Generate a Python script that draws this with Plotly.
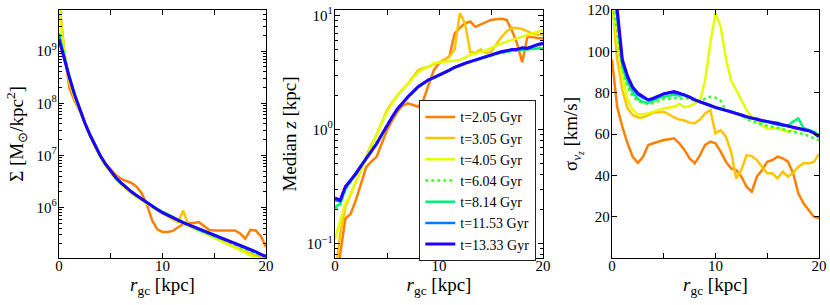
import plotly.graph_objects as go

# ---------------- data ----------------
R_KPC = [0, 0.5, 1, 1.5, 2, 2.5, 3, 3.5, 4, 4.5, 5, 5.5, 6, 6.5, 7, 7.5, 8, 8.5, 9, 9.5,
         10, 10.5, 11, 11.5, 12, 12.5, 13, 13.5, 14, 14.5, 15, 15.5, 16, 16.5, 17, 17.5,
         18, 18.5, 19, 19.5, 20]

LABELS = ["t=2.05 Gyr", "t=3.05 Gyr", "t=4.05 Gyr", "t=6.04 Gyr",
          "t=8.14 Gyr", "t=11.53 Gyr", "t=13.33 Gyr"]
COLORS = ["#ff8000", "#ffc400", "#e1ff00", "#3cff28", "#00f078", "#0078ff", "#2200ff"]
DASHES = ["solid", "solid", "solid", "dot", "solid", "solid", "solid"]
WIDTHS = [2.5, 2.5, 2.5, 2.5, 2.5, 2.5, 3.0]

# Panel 1: log10 Sigma [Msun/kpc^2]
LOGSIG_205 = [10.0, 9.0, 8.3, 8.05, 7.85, 7.6, 7.38, 7.17, 6.98, 6.84, 6.72, 6.62, 6.55, 6.51, 6.47,
              6.40, 6.27, 6.05, 5.75, 5.58, 5.53, 5.53, 5.55, 5.62, 5.68, 5.70, 5.70, 5.72, 5.64,
              5.57, 5.56, 5.56, 5.57, 5.56, 5.56, 5.50, 5.40, 5.57, 5.56, 5.45, 5.24]
LOGSIG_305 = [9.9, 9.0, 8.4, 8.1, 7.86, 7.6, 7.38, 7.17, 6.97, 6.81, 6.67, 6.55, 6.45, 6.36, 6.28,
              6.21, 6.14, 6.07, 6.01, 5.96, 5.89, 5.83, 5.77, 5.72, 5.94, 5.66, 5.60, 5.57, 5.52,
              5.47, 5.42, 5.37, 5.32, 5.28, 5.24, 5.20, 5.16, 5.12, 5.08, 5.04, 5.00]
LOGSIG_405 = [9.9, 8.95, 8.45, 8.12, 7.86, 7.6, 7.37, 7.16, 6.96, 6.80, 6.66, 6.54, 6.44, 6.35, 6.27,
              6.20, 6.13, 6.06, 6.00, 5.95, 5.89, 5.84, 5.79, 5.74, 5.69, 5.65, 5.60, 5.56, 5.52,
              5.47, 5.42, 5.37, 5.32, 5.27, 5.22, 5.17, 5.12, 5.08, 5.04, 5.01, 4.98]
LOGSIG_604 = [9.35, 8.9, 8.5, 8.17, 7.88, 7.62, 7.39, 7.19, 6.99, 6.83, 6.69, 6.57, 6.47, 6.38, 6.30,
              6.23, 6.16, 6.09, 6.02, 5.97, 5.91, 5.86, 5.81, 5.75, 5.70, 5.65, 5.61, 5.57, 5.53,
              5.49, 5.45, 5.41, 5.37, 5.33, 5.29, 5.25, 5.20, 5.16, 5.12, 5.08, 5.04]
LOGSIG_814 = [9.32, 8.88, 8.5, 8.17, 7.88, 7.62, 7.39, 7.19, 6.99, 6.83, 6.69, 6.57, 6.47, 6.38, 6.30,
              6.23, 6.16, 6.09, 6.03, 5.97, 5.92, 5.86, 5.81, 5.76, 5.71, 5.66, 5.62, 5.57, 5.53,
              5.49, 5.45, 5.42, 5.38, 5.35, 5.32, 5.28, 5.24, 5.20, 5.15, 5.10, 5.06]
LOGSIG_1153 = [9.28, 8.86, 8.5, 8.17, 7.88, 7.62, 7.39, 7.19, 6.99, 6.83, 6.69, 6.57, 6.47, 6.38, 6.30,
               6.23, 6.16, 6.09, 6.02, 5.96, 5.90, 5.85, 5.80, 5.75, 5.71, 5.67, 5.63, 5.59, 5.55,
               5.51, 5.47, 5.43, 5.39, 5.36, 5.32, 5.28, 5.24, 5.19, 5.15, 5.10, 5.06]
LOGSIG_1333 = [9.22, 8.85, 8.50, 8.17, 7.88, 7.62, 7.39, 7.19, 6.99, 6.83, 6.69, 6.57, 6.47, 6.38, 6.30,
               6.23, 6.16, 6.09, 6.02, 5.96, 5.90, 5.85, 5.80, 5.75, 5.71, 5.67, 5.63, 5.59, 5.55,
               5.51, 5.47, 5.43, 5.39, 5.36, 5.32, 5.28, 5.24, 5.19, 5.15, 5.10, 5.06]

# Panel 2: log10 median z [kpc]
LOGZ_205 = [-1.5, -1.09, -0.78, -0.74, -0.62, -0.48, -0.33, -0.28, -0.24, -0.12, -0.006, 0.08, 0.155,
            0.21, 0.23, 0.215, 0.20, 0.26, 0.40, 0.52, 0.58, 0.61, 0.64, 0.84, 0.89, 0.93, 0.946, 0.90,
            0.92, 0.946, 0.96, 0.965, 0.97, 0.96, 0.87, 0.755, 0.59, 0.81, 0.81, 0.80, 0.80]
LOGZ_305 = [-1.3, -0.91, -0.68, -0.57, -0.46, -0.35, -0.24, -0.13, -0.05, 0.06, 0.17, 0.24, 0.30,
            0.35, 0.40, 0.46, 0.52, 0.54, 0.55, 0.57, 0.59, 0.61, 0.64, 0.70, 1.02, 0.93, 0.68, 0.67,
            0.70, 0.67, 0.68, 0.75, 0.81, 0.86, 0.89, 0.89, 0.88, 0.86, 0.84, 0.83, 0.83]
LOGZ_405 = [-0.96, -0.80, -0.65, -0.565, -0.46, -0.36, -0.255, -0.14, -0.035, 0.06, 0.155, 0.235, 0.30,
            0.35, 0.40, 0.45, 0.50, 0.53, 0.55, 0.58, 0.585, 0.59, 0.595, 0.60, 0.61, 0.63, 0.655, 0.665,
            0.68, 0.695, 0.71, 0.735, 0.755, 0.77, 0.785, 0.80, 0.81, 0.825, 0.84, 0.855, 0.87]
LOGZ_604 = [-0.70, -0.66, -0.53, -0.46, -0.40, -0.33, -0.26, -0.19, -0.12, -0.04, 0.04, 0.11, 0.175,
            0.23, 0.28, 0.325, 0.37, 0.40, 0.43, 0.45, 0.47, 0.495, 0.515, 0.54, 0.56, 0.575, 0.59, 0.605,
            0.62, 0.635, 0.65, 0.66, 0.67, 0.68, 0.69, 0.69, 0.70, 0.705, 0.71, 0.715, 0.72]
LOGZ_814 = [-0.68, -0.65, -0.52, -0.45, -0.39, -0.32, -0.255, -0.19, -0.125, -0.045, 0.035, 0.11, 0.18,
            0.235, 0.285, 0.33, 0.375, 0.405, 0.435, 0.455, 0.475, 0.50, 0.52, 0.545, 0.565, 0.58, 0.595,
            0.61, 0.625, 0.64, 0.655, 0.665, 0.675, 0.685, 0.69, 0.695, 0.70, 0.70, 0.705, 0.71, 0.71]
LOGZ_1153 = [-0.62, -0.63, -0.51, -0.445, -0.39, -0.32, -0.255, -0.19, -0.125, -0.045, 0.035, 0.11, 0.18,
             0.235, 0.285, 0.33, 0.375, 0.405, 0.435, 0.455, 0.475, 0.50, 0.52, 0.545, 0.565, 0.58, 0.595,
             0.61, 0.625, 0.64, 0.655, 0.67, 0.685, 0.69, 0.70, 0.705, 0.715, 0.715, 0.73, 0.74, 0.75]
LOGZ_1333 = [-0.60, -0.62, -0.50, -0.445, -0.39, -0.32, -0.255, -0.19, -0.125, -0.045, 0.035, 0.11, 0.18,
             0.235, 0.285, 0.33, 0.375, 0.405, 0.435, 0.455, 0.475, 0.50, 0.52, 0.545, 0.565, 0.58, 0.595,
             0.61, 0.625, 0.64, 0.655, 0.665, 0.68, 0.69, 0.70, 0.70, 0.715, 0.71, 0.73, 0.745, 0.755]

# Panel 3: sigma_vz [km/s]
SIG_205 = [96, 73, 63.5, 55.5, 49, 46.1, 49, 54.7, 55.5, 56.3, 57.1, 57.5, 57.9, 55.5, 52.3, 48.2,
           45.8, 49.8, 54.7, 56.3, 55.5, 51.5, 46.6, 43.4, 42.6, 39.4, 34.5, 32.1, 39.4, 42.6, 46.6,
           47.4, 49.0, 48.2, 46.6, 41.0, 31.3, 26.5, 23.2, 20.0, 19.2]
SIG_305 = [125, 96, 81.3, 72.4, 69.2, 68, 68, 69.2, 70.3, 70.5, 70.8, 69.5, 68, 67, 66.5, 65.5,
           65.2, 67, 70, 71.6, 60.3, 61.9, 58.7, 51.5, 38.5, 42.6, 49.8, 49.3, 47.4, 44, 41, 41,
           38.5, 41.8, 39.4, 41, 44.2, 45.8, 45.8, 46.5, 50.3]
SIG_405 = [122, 104, 88, 76.5, 71.6, 69.5, 69.5, 70, 70.8, 71.5, 72.4, 72.8, 73.2, 74.5, 73, 73.5,
           74.8, 76, 86, 104, 118.5, 112, 96.6, 86, 81.3, 76.5, 71.6, 68.5, 66, 64, 62.7, 62.5,
           62.7, 62, 61.1, 62, 62.7, 61.5, 61.6, 60.5, 58.7]
SIG_604 = [125, 110, 92, 83, 78, 76, 75, 74.5, 75, 76, 77, 77, 77.5, 77, 77.5, 77, 76, 76, 77, 78,
           77.5, 76, 71.5, 71, 70, 69, 67.5, 66, 65.5, 64.5, 64, 63.5, 63, 62.5, 61.5, 61, 60.5,
           60, 59, 58, 57]
SIG_814 = [140, 115, 93, 85, 80, 77, 75.5, 75, 76, 77.5, 78, 78.5, 79, 78.5, 79, 78, 76.5, 75.5,
           74.5, 73.5, 72.5, 72, 71.5, 71, 70, 69, 68, 67.5, 67, 66, 66, 65, 64.5, 64, 64, 66, 67.5,
           63, 62, 61, 59.5]
SIG_1153 = [140, 118, 95, 87, 82, 79, 77.5, 76.5, 77, 78.5, 79.5, 80, 80, 79.5, 79, 77.8, 76.5,
            75.5, 74.8, 73.8, 72.9, 72.2, 71.6, 70.8, 70, 69.2, 68.4, 67.6, 67.5, 66.5, 66, 65.6,
            65.5, 64.5, 64, 63.3, 62.7, 62.1, 61.6, 60.5, 59]
SIG_1333 = [145, 120, 96, 88, 82.6, 79.7, 78, 76.5, 77.3, 78.5, 79.4, 80, 80.5, 79.8, 78.9, 77.8,
            76.5, 75.5, 74.8, 73.8, 72.9, 72.2, 71.6, 70.8, 70, 69.2, 68.4, 67.6, 67.1, 66.5, 66,
            65.6, 65.2, 64.5, 63.9, 63.3, 62.7, 62.1, 61.6, 60.5, 58.7]

P1 = [LOGSIG_205, LOGSIG_305, LOGSIG_405, LOGSIG_604, LOGSIG_814, LOGSIG_1153, LOGSIG_1333]
P2 = [LOGZ_205, LOGZ_305, LOGZ_405, LOGZ_604, LOGZ_814, LOGZ_1153, LOGZ_1333]
P3 = [SIG_205, SIG_305, SIG_405, SIG_604, SIG_814, SIG_1153, SIG_1333]

X_TICKS = [0, 10, 20]
X_TICKTEXT = ["0", "10", "20"]
Y1_TICKS = [1e6, 1e7, 1e8, 1e9]
Y1_TICKTEXT = ["10<sup>6</sup>", "10<sup>7</sup>", "10<sup>8</sup>", "10<sup>9</sup>"]
Y2_TICKS = [0.1, 1, 10]
Y2_TICKTEXT = ["10<sup>\u22121</sup>", "10<sup>0</sup>", "10<sup>1</sup>"]
Y3_TICKS = [20, 40, 60, 80, 100, 120]

# ---------------- figure ----------------
W, H = 830, 305
FONT = "Liberation Serif"
fig = go.Figure()

for k in range(7):
    common = dict(mode="lines", legendgroup=LABELS[k], name=LABELS[k], hoverinfo="skip",
                  line=dict(color=COLORS[k], width=WIDTHS[k], dash=DASHES[k]))
    fig.add_trace(go.Scatter(x=R_KPC, y=[10 ** v for v in P1[k]], xaxis="x", yaxis="y",
                             showlegend=False, **common))
    fig.add_trace(go.Scatter(x=R_KPC, y=[10 ** v for v in P2[k]], xaxis="x2", yaxis="y2",
                             showlegend=True, **common))
    fig.add_trace(go.Scatter(x=R_KPC, y=P3[k], xaxis="x3", yaxis="y3",
                             showlegend=False, **common))

def px_x(a, b):
    return [a / W, b / W]

ydom = [1 - 258 / H, 1 - 10 / H]
axis_common = dict(showline=True, linecolor="black", linewidth=1.3, mirror="ticks",
                   ticks="inside", ticklen=5, tickwidth=1, tickcolor="black",
                   showgrid=False, zeroline=False, automargin=False,
                   ticklabeloverflow="allow",
                   tickfont=dict(family=FONT, size=15, color="black"))
TITLE_FONT = dict(family=FONT, size=19, color="black")
xtitle = dict(text="<i>r</i><sub>gc</sub> [kpc]", font=TITLE_FONT, standoff=2)
xminor = dict(tickvals=[5, 15], ticks="inside", ticklen=5, tickwidth=1, tickcolor="black")

def log_minor(lo, hi):
    vals = []
    for e in range(lo, hi):
        for m in range(2, 10):
            vals.append(m * 10 ** e)
    return dict(tickvals=vals, ticks="inside", ticklen=2.5, tickwidth=1, tickcolor="black")

layout = dict(
    width=W, height=H, autosize=False,
    margin=dict(l=0, r=0, t=0, b=0, autoexpand=False),
    paper_bgcolor="white", plot_bgcolor="white",
    font=dict(family=FONT, color="black"),
    showlegend=True, hovermode=False,
    legend=dict(x=536 / W, xanchor="right", y=1 - 100 / H, yanchor="top",
                bgcolor="white", bordercolor="#222", borderwidth=1.3,
                font=dict(family=FONT, size=14, color="black"),
                tracegroupgap=0, itemwidth=30),
    xaxis=dict(domain=px_x(59, 266), anchor="y", range=[0, 20], tickmode="array",
               tickvals=X_TICKS, ticktext=X_TICKTEXT, minor=xminor, title=xtitle,
               ticklabelstandoff=-6, **axis_common),
    xaxis2=dict(domain=px_x(335, 543), anchor="y2", range=[0, 20], tickmode="array",
                tickvals=X_TICKS, ticktext=X_TICKTEXT, minor=xminor, title=xtitle,
                ticklabelstandoff=-6, **axis_common),
    xaxis3=dict(domain=px_x(612, 819), anchor="y3", range=[0, 20], tickmode="array",
                tickvals=X_TICKS, ticktext=X_TICKTEXT, minor=xminor, title=xtitle,
                ticklabelstandoff=-6, **axis_common),
    yaxis=dict(domain=ydom, anchor="x", type="log", range=[5.03, 9.79], tickmode="array",
               tickvals=Y1_TICKS, ticktext=Y1_TICKTEXT, minor=log_minor(5, 10),
               title=dict(text="\u03a3 [M<sub>\u2299</sub>/kpc<sup>2</sup>]",
                          font=TITLE_FONT, standoff=7),
               ticklabelstandoff=-2, **axis_common),
    yaxis2=dict(domain=ydom, anchor="x2", type="log", range=[-1.126, 1.047], tickmode="array",
                tickvals=Y2_TICKS, ticktext=Y2_TICKTEXT, minor=log_minor(-2, 2),
                title=dict(text="Median <i>z</i> [kpc]", font=TITLE_FONT, standoff=5),
                ticklabelstandoff=-2, **axis_common),
    yaxis3=dict(domain=ydom, anchor="x3", range=[0, 120], tickmode="array",
                tickvals=Y3_TICKS,
                title=dict(text="\u03c3<sub><i>v</i><sub><i>z</i></sub></sub> [km/s]",
                           font=TITLE_FONT, standoff=4),
                ticklabelstandoff=-2, **axis_common),
)
fig.update_layout(**layout)
# the page body's default 8 px margin is removed so the figure fills the window
fig.write_html("out.html", config={"displayModeBar": False},
               post_script="document.body.style.margin='0px';")
